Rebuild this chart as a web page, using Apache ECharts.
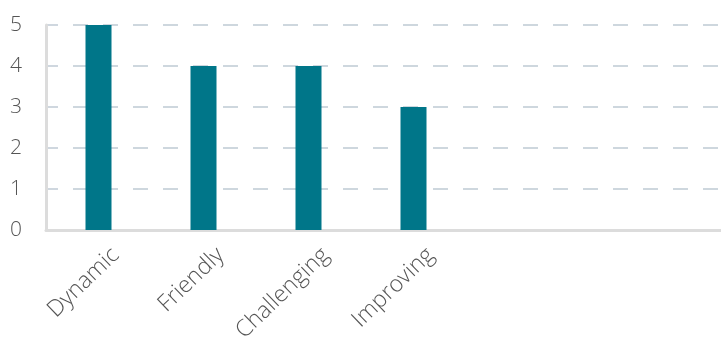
<!DOCTYPE html>
<html>
<head>
<meta charset="utf-8">
<script src="https://cdn.jsdelivr.net/npm/echarts@6/dist/echarts.min.js"></script>
<style>
html,body{margin:0;padding:0;background:#fff;}
#chart{width:721px;height:349px;}
</style>
</head>
<body>
<div id="chart"></div>
<script>
const categories = ['Dynamic', 'Friendly', 'Challenging', 'Improving', '', '', ''];
const values = [5, 4, 4, 3, null, null, null];
const yTicks = [0, 1, 2, 3, 4, 5];

const chart = echarts.init(document.getElementById('chart'), null, {renderer: 'canvas'});
chart.setOption({
  animation: false,
  grid: {left: 46, top: 25, height: 205, width: 735, containLabel: false, outerBoundsMode: 'none'},
  xAxis: {
    type: 'category',
    data: categories,
    axisLine: {show: true, lineStyle: {color: '#dcdcdc', width: 3}},
    axisTick: {show: false},
    splitLine: {show: false},
    axisLabel: {
      interval: 0,
      rotate: 44,
      margin: 4,
      verticalAlign: 'top',
      padding: [13, 0, 0, 0],
      fontFamily: 'Open Sans',
      fontWeight: 300,
      fontSize: 23,
      color: '#555'
    }
  },
  yAxis: {
    type: 'value',
    min: yTicks[0],
    max: yTicks[yTicks.length - 1],
    interval: 1,
    axisLine: {show: true, lineStyle: {color: '#dcdcdc', width: 3}},
    axisTick: {show: false},
    splitLine: {show: true, lineStyle: {color: '#bfcad4', width: 1.5, type: [15, 15], dashOffset: 3}},
    axisLabel: {
      margin: 24,
      fontFamily: 'Open Sans',
      fontWeight: 300,
      fontSize: 21,
      color: '#555'
    }
  },
  series: [{
    type: 'bar',
    data: values,
    barWidth: 26,
    itemStyle: {color: '#007689'}
  }]
});
</script>
</body>
</html>
